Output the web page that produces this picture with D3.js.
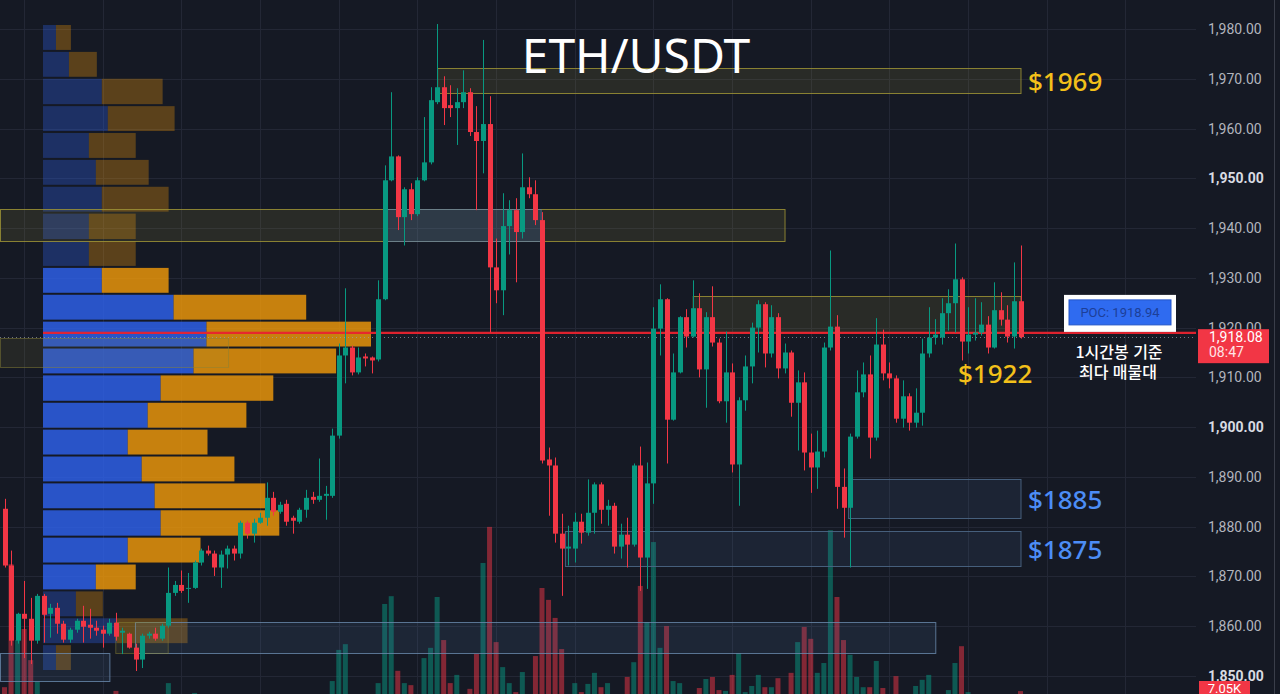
<!DOCTYPE html>
<html lang="ko">
<head>
<meta charset="utf-8">
<style>
html, body {
    margin: 0;
    padding: 0;
    background: #151924;
}
svg {
    display: block;
    width: 1280px;
    height: 694px;
    background-color: #151924;
}
</style>
</head>
<body>
<svg></svg>

<script src="https://cdn.jsdelivr.net/npm/d3@7/dist/d3.min.js"></script>
<script>
// ETH/USDT 1h candles + volume profile

var opens = [
 1883.6,1872.2,1857.1,1862.5,1861.5,1857.1,1866.1,1862.5,1863.7,1860.5,
 1857.3,1859.3,1861.1,1860.3,1859.7,1859.3,1858.5,1860.7,1858.7,1858.5,
 1855.7,1853.3,1858.1,1858.5,1857.5,1860.1,1866.7,1868.3,1867.5,1867.7,
 1872.8,1875.2,1874.6,1871.8,1874.4,1875.6,1874.6,1880.8,1878.6,1880.8,
 1881.8,1885.8,1883.0,1884.6,1881.8,1881.0,1883.4,1886.0,1885.4,1886.2,
 1886.2,1898.3,1914.4,1916.0,1911.0,1914.2,1914.0,1913.6,1925.7,1949.6,
 1954.4,1942.2,1947.8,1942.8,1949.6,1953.2,1965.3,1968.3,1964.7,1964.1,
 1965.3,1967.3,1959.3,1957.5,1960.9,1932.1,1927.5,1940.4,1943.6,1939.2,
 1948.2,1946.8,1941.6,1893.5,1892.3,1878.6,1875.6,1875.6,1881.0,1878.8,
 1882.8,1888.5,1883.4,1884.2,1876.0,1878.4,1876.4,1892.3,1873.8,1888.7,
 1919.8,1925.7,1901.5,1911.0,1922.1,1918.2,1923.9,1911.6,1922.1,1917.0,
 1905.2,1911.0,1892.5,1905.4,1912.2,1920.0,1924.7,1914.8,1922.1,1911.8,
 1915.0,1904.9,1909.0,1894.9,1891.9,1895.1,1916.0,1920.2,1888.0,1883.8,
 1898.1,1907.0,1910.6,1897.9,1916.6,1910.8,1909.8,1901.7,1906.2,1900.9,
 1902.9,1914.8,1918.0,1918.0,1922.9,1924.9,1929.7,1917.2,1918.6,1919.0,
 1920.6,1916.0,1923.5,1921.6,1918.2,1925.3
];
var highs = [
 1885.6,1875.2,1862.7,1869.1,1865.7,1866.5,1866.5,1864.5,1864.7,1861.1,
 1859.7,1861.5,1864.1,1863.5,1861.1,1860.1,1861.5,1862.7,1859.7,1858.7,
 1856.5,1858.5,1858.9,1859.7,1860.5,1871.8,1869.1,1871.2,1870.7,1873.2,
 1875.6,1876.2,1875.2,1875.2,1876.2,1876.2,1881.2,1881.2,1881.6,1882.8,
 1888.9,1887.0,1885.0,1885.4,1882.2,1883.8,1887.4,1887.0,1893.7,1888.2,
 1899.7,1916.8,1927.9,1916.4,1916.0,1914.8,1914.2,1929.5,1952.6,1967.3,
 1954.6,1948.2,1949.0,1950.2,1962.3,1968.3,1981.0,1970.5,1968.7,1968.1,
 1971.7,1968.1,1964.5,1977.8,1966.5,1937.9,1947.0,1945.6,1946.0,1955.0,
 1950.2,1949.6,1943.2,1895.9,1893.9,1882.6,1880.2,1882.8,1882.6,1889.5,
 1888.9,1888.9,1885.4,1884.8,1880.6,1881.8,1892.7,1896.1,1892.9,1924.1,
 1928.7,1925.9,1914.8,1922.3,1923.7,1929.5,1926.9,1923.1,1928.3,1917.8,
 1919.2,1912.8,1906.0,1914.4,1921.0,1925.5,1925.1,1924.5,1922.9,1916.8,
 1915.4,1911.4,1911.0,1898.7,1899.3,1917.0,1935.5,1922.5,1891.7,1898.7,
 1911.4,1913.0,1914.4,1921.9,1919.6,1913.0,1910.4,1909.4,1906.8,1907.8,
 1917.8,1924.1,1921.7,1925.9,1927.7,1936.9,1930.1,1924.1,1925.9,1925.1,
 1922.3,1929.1,1927.1,1924.5,1933.1,1936.5
];
var lows = [
 1871.8,1856.1,1856.5,1853.6,1852.4,1856.5,1856.7,1857.7,1858.5,1856.7,
 1856.7,1858.7,1856.7,1857.5,1858.1,1855.7,1858.1,1857.1,1854.4,1855.5,
 1851.0,1851.6,1857.5,1857.1,1857.1,1859.7,1866.1,1866.7,1864.7,1867.5,
 1872.2,1874.2,1870.1,1867.7,1871.6,1873.2,1873.6,1877.6,1876.8,1880.6,
 1880.2,1882.2,1882.6,1880.2,1878.6,1880.6,1881.8,1884.6,1885.0,1881.4,
 1885.8,1897.7,1908.8,1910.4,1910.6,1912.2,1910.8,1913.2,1925.5,1949.4,
 1939.6,1936.5,1941.6,1942.4,1949.4,1952.8,1964.9,1960.7,1962.3,1956.7,
 1964.1,1958.5,1943.6,1951.0,1919.0,1924.9,1922.5,1934.7,1929.1,1937.9,
 1946.0,1940.6,1892.7,1882.2,1876.8,1866.1,1872.2,1872.8,1876.6,1878.2,
 1878.6,1880.6,1880.2,1874.6,1873.6,1871.8,1876.0,1867.1,1867.5,1884.6,
 1914.4,1892.7,1901.3,1910.8,1916.0,1918.0,1910.0,1903.9,1916.2,1904.8,
 1900.9,1890.9,1884.2,1903.3,1908.8,1915.0,1912.0,1914.0,1909.8,1910.8,
 1902.1,1895.3,1891.3,1886.8,1887.6,1893.9,1915.4,1883.6,1877.8,1871.8,
 1897.7,1906.0,1893.7,1897.3,1909.4,1907.8,1900.9,1899.9,1899.3,1899.9,
 1900.3,1914.0,1916.6,1916.6,1919.4,1919.0,1913.4,1914.8,1917.4,1918.4,
 1914.8,1915.8,1920.4,1917.0,1915.8,1917.8
];
var closes = [
 1872.2,1857.1,1862.5,1861.5,1857.1,1866.1,1862.3,1863.7,1860.5,1857.3,
 1859.3,1861.1,1859.9,1859.7,1859.1,1858.5,1860.7,1857.9,1859.1,1855.7,
 1853.3,1858.1,1858.5,1857.5,1860.1,1866.7,1868.3,1867.1,1867.7,1872.8,
 1875.2,1874.6,1871.8,1874.4,1875.6,1874.6,1880.8,1878.6,1880.8,1881.8,
 1885.8,1883.0,1884.4,1881.0,1881.2,1883.4,1885.8,1885.4,1886.2,1886.6,
 1898.3,1914.4,1916.0,1911.0,1914.0,1913.8,1913.4,1925.7,1949.6,1954.4,
 1942.2,1947.8,1942.8,1949.6,1953.2,1965.7,1968.3,1964.1,1964.1,1965.3,
 1967.3,1959.3,1957.5,1960.9,1932.1,1927.5,1940.4,1943.6,1939.2,1948.2,
 1946.8,1941.6,1893.3,1892.3,1878.6,1875.6,1876.0,1881.0,1878.8,1882.8,
 1888.5,1883.4,1884.2,1876.0,1878.4,1876.4,1892.3,1873.8,1888.7,1919.8,
 1925.7,1901.5,1911.0,1922.1,1918.2,1923.9,1911.6,1922.1,1917.0,1905.2,
 1911.0,1892.5,1905.4,1912.2,1920.0,1924.7,1914.8,1922.1,1911.8,1915.0,
 1904.9,1909.0,1894.9,1891.9,1895.1,1916.0,1920.2,1888.0,1883.8,1898.1,
 1907.0,1910.6,1897.9,1916.6,1910.8,1909.8,1901.7,1906.2,1900.9,1902.9,
 1914.8,1918.0,1918.6,1922.9,1924.9,1929.7,1917.2,1918.6,1919.0,1920.6,
 1916.0,1923.5,1921.6,1918.2,1925.3,1918.08
];
// volume in K ETH
var volumes = [
 8.0,38,19.5,22.2,14.6,9.3,5,5,4,5,
 4,3,5,4,3,4,4,7.1,3,5,
 6,5,3,4,5,9.0,5,4,3,6.6,
 4,3,5,4,4,3,6,4,4,3,
 5,4,3,4,3,4,5,3,4,5,
 9.5,17.1,18.5,5,4,3,4,9.0,28.3,30.2,
 12.0,9.0,8.5,5,15.1,17.6,30.0,19.5,9.0,11.0,
 5,7.6,16.1,38.3,47.1,19.0,12.9,9.0,6.8,11.7,
 5,15.6,32.2,29.3,24.9,17.3,5,9.0,6.8,8.8,
 11.5,8.0,9.0,5,5,10.5,14.1,32.7,23.9,43.4,
 17.6,22.9,9.5,9.0,5,5,7.8,10.0,10.5,7.3,
 7.1,11.0,16.3,6.8,8.3,11.0,8.0,8.0,10.2,5,
 11.5,19.0,22.7,19.8,11.5,13.9,46.3,30.0,19.5,15.9,
 10.5,8.0,8.0,14.4,7.8,5,10.7,5,5,8.3,
 9.8,11.0,5,5,7.3,13.9,18.0,6.8,5,5,
 5,5,4,5,5,7.05
];

// volume profile rows (price edges top -> bottom), up / down volume per row
var profileEdges = [1981.0,1975.6,1970.2,1964.7,1959.3,1953.9,1948.5,1943.1,1937.6,1932.2,
 1926.8,1921.4,1916.0,1910.6,1905.1,1899.7,1894.3,1888.9,1883.5,1878.0,1872.6,1867.2,
 1861.8,1856.4,1851.0];
var profileUp   = [13,26,59,65,46,53,59,46,46,59,131,164,151,118,105,85,99,112,118,85,53,33,74,13];
var profileDown = [15,28,61,67,47,53,67,47,47,67,133,165,143,113,99,80,93,111,119,73,40,27,71,15];
var valueArea = [1867.2, 1932.2];
var poc = 1918.94;
var lastPrice = 1918.08;

var priceTicks = [1850,1860,1870,1880,1890,1900,1910,1920,1930,1940,1950,1960,1970,1980];

// drawn zones: candle index range + price range
var zones = [
    {i0: 66,   i1: 155,  top: 1972.2, bottom: 1967.1, kind: "yellow"},
    {i0: -0.7, i1: 119,  top: 1943.8, bottom: 1937.3, kind: "yellow"},
    {i0: 57.8, i1: 81.8, top: 1943.8, bottom: 1937.3, kind: "blueFill"},
    {i0: 105,  i1: 155,  top: 1926.3, bottom: 1919.0, kind: "yellow"},
    {i0: -0.7, i1: 34.1, top: 1918.0, bottom: 1912.2, kind: "yellowDim"},
    {i0: 128.7,i1: 155,  top: 1889.5, bottom: 1881.6, kind: "blue"},
    {i0: 85.5, i1: 155,  top: 1879.2, bottom: 1872.2, kind: "blue"},
    {i0: 19.9, i1: 142,  top: 1860.9, bottom: 1854.6, kind: "blueLight"},
    {i0: 16.9, i1: 24.9, top: 1860.9, bottom: 1854.6, kind: "yellowDim"},
    {i0: -0.7, i1: 16,   top: 1854.6, bottom: 1849.0, kind: "blueLight"}
];

var priceLabels = [
    {text: "$1969", price: 1969, pos: "right", color: "#f3c01a"},
    {text: "$1922", price: 1910.3, pos: "left", color: "#f3c01a"},
    {text: "$1885", price: 1885, pos: "right", color: "#4c8df6"},
    {text: "$1875", price: 1875, pos: "right", color: "#4c8df6"}
];

var svg = d3.select("svg");
var W = 1280, H = 694;
var plotRight = 1196;

var x = d3.scaleLinear().domain([0, 155]).range([4.5, 1020.5]);
var y = d3.scaleLinear().domain([1850, 1980]).range([676, 29]);
var yVol = d3.scaleLinear().domain([0, 50]).range([720, 515]);
var wProfile = d3.scaleLinear().domain([0, 330]).range([0, 329]);

var UP = "#089981", DOWN = "#f23645";

/////////////////////////////////////////
// grid
/////////////////////////////////////////
var grid = svg.append("g");
grid.selectAll(".h").data(priceTicks).join("line")
    .attr("x1", 0).attr("x2", plotRight)
    .attr("y1", function(d){ return Math.round(y(d)) + 0.5 })
    .attr("y2", function(d){ return Math.round(y(d)) + 0.5 })
    .attr("stroke", "#232735");
grid.selectAll(".v").data(d3.range(3, 172, 12)).join("line")
    .attr("x1", function(d){ return Math.round(x(d)) + 0.5 })
    .attr("x2", function(d){ return Math.round(x(d)) + 0.5 })
    .attr("y1", 0).attr("y2", H)
    .attr("stroke", "#232735");

/////////////////////////////////////////
// volume bars
/////////////////////////////////////////
svg.append("g").selectAll("rect").data(volumes).join("rect")
    .attr("x", function(d, i){ return x(i) - 2.5 })
    .attr("width", 5)
    .attr("y", function(d){ return yVol(d) })
    .attr("height", function(d){ return yVol(0) - yVol(d) })
    .attr("fill", function(d, i){ return closes[i] >= opens[i] ? UP : DOWN })
    .attr("fill-opacity", 0.5);

/////////////////////////////////////////
// volume profile
/////////////////////////////////////////
var profX = 43;
var prof = svg.append("g");
profileUp.forEach(function(up, k){
    var top = profileEdges[k], bot = profileEdges[k + 1];
    var mid = (top + bot) / 2;
    var inVA = mid >= valueArea[0] && mid <= valueArea[1];
    var op = inVA ? 0.82 : 0.32;
    var y0 = y(top) + 1, h = y(bot) - y(top) - 2;
    prof.append("rect").attr("x", profX).attr("y", y0)
        .attr("width", wProfile(up)).attr("height", h)
        .attr("fill", "#2e62ed").attr("fill-opacity", op);
    prof.append("rect").attr("x", profX + wProfile(up)).attr("y", y0)
        .attr("width", wProfile(profileDown[k])).attr("height", h)
        .attr("fill", "#ef990a").attr("fill-opacity", op);
});

/////////////////////////////////////////
// zones
/////////////////////////////////////////
var zoneStyle = {
    yellow:    {fill: "rgb(160,150,60)", fo: 0.15, stroke: "#9c9235", so: 0.85},
    yellowDim: {fill: "rgb(160,150,60)", fo: 0.12, stroke: "#8a8235", so: 0.5},
    blueFill:  {fill: "rgb(70,120,200)", fo: 0.2,  stroke: "#5b7fb8", so: 0.6},
    blue:      {fill: "rgb(80,120,170)", fo: 0.12, stroke: "#4b6685", so: 0.9},
    blueLight: {fill: "rgb(80,120,170)", fo: 0.14, stroke: "#6a89ad", so: 0.8}
};
svg.append("g").selectAll("rect").data(zones).join("rect")
    .attr("x", function(d){ return Math.max(0, x(d.i0)) + 0.5 })
    .attr("y", function(d){ return Math.round(y(d.top)) + 0.5 })
    .attr("width", function(d){ return x(d.i1) - Math.max(0, x(d.i0)) })
    .attr("height", function(d){ return Math.round(y(d.bottom) - y(d.top)) })
    .attr("fill", function(d){ return zoneStyle[d.kind].fill })
    .attr("fill-opacity", function(d){ return zoneStyle[d.kind].fo })
    .attr("stroke", function(d){ return zoneStyle[d.kind].stroke })
    .attr("stroke-opacity", function(d){ return zoneStyle[d.kind].so });

/////////////////////////////////////////
// POC line + last price line
/////////////////////////////////////////
svg.append("line")
    .attr("x1", profX).attr("x2", plotRight)
    .attr("y1", y(poc)).attr("y2", y(poc))
    .attr("stroke", "#e8232f").attr("stroke-width", 2.2).attr("stroke-opacity", 0.95);
svg.append("line")
    .attr("x1", 0).attr("x2", plotRight)
    .attr("y1", Math.round(y(lastPrice)) + 0.5).attr("y2", Math.round(y(lastPrice)) + 0.5)
    .attr("stroke", "#9aa0ad").attr("stroke-opacity", 0.7)
    .attr("stroke-dasharray", "1,3");

/////////////////////////////////////////
// candles
/////////////////////////////////////////
var candle = svg.append("g").selectAll("g").data(opens).join("g");
candle.append("line")
    .attr("x1", function(d, i){ return Math.round(x(i)) + 0.5 })
    .attr("x2", function(d, i){ return Math.round(x(i)) + 0.5 })
    .attr("y1", function(d, i){ return y(highs[i]) })
    .attr("y2", function(d, i){ return y(lows[i]) })
    .attr("stroke", function(d, i){ return closes[i] >= opens[i] ? UP : DOWN });
candle.append("rect")
    .attr("x", function(d, i){ return Math.round(x(i)) - 2 })
    .attr("width", 5)
    .attr("y", function(d, i){ return y(Math.max(opens[i], closes[i])) })
    .attr("height", function(d, i){ return Math.max(1, Math.abs(y(opens[i]) - y(closes[i]))) })
    .attr("fill", function(d, i){ return closes[i] >= opens[i] ? UP : DOWN });

/////////////////////////////////////////
// price axis
/////////////////////////////////////////
var axis = svg.append("g")
    .attr("transform", "translate(1208,0)")
    .call(d3.axisRight(y).tickValues(priceTicks).tickSize(0).tickPadding(0)
        .tickFormat(d3.format(",.2f")));
axis.select(".domain").remove();
axis.selectAll("text")
    .attr("font-family", "Roboto, sans-serif")
    .attr("font-size", 14)
    .attr("fill", function(d){ return d % 50 === 0 ? "#d8dbe2" : "#b2b5be" })
    .attr("font-weight", function(d){ return d % 50 === 0 ? "bold" : "normal" });

svg.append("line")
    .attr("x1", 1274.5).attr("x2", 1274.5).attr("y1", 0).attr("y2", H)
    .attr("stroke", "#3a3e4a");

// last price badge
var ly = y(lastPrice);
svg.append("rect").attr("x", 1198).attr("y", ly - 8).attr("width", 71).attr("height", 34)
    .attr("fill", "#f23645");
svg.append("text").attr("x", 1209).attr("y", ly + 5).text(d3.format(",.2f")(lastPrice))
    .attr("font-family", "Roboto, sans-serif").attr("font-size", 14).attr("fill", "#ffffff");
svg.append("text").attr("x", 1209).attr("y", ly + 20).text("08:47")
    .attr("font-family", "Roboto, sans-serif").attr("font-size", 14).attr("fill", "#ffe3e5");

// last volume badge
var lv = volumes[volumes.length - 1];
svg.append("rect").attr("x", 1199).attr("y", 681).attr("width", 51).attr("height", 20)
    .attr("fill", "#f23645");
svg.append("text").attr("x", 1224.5).attr("y", 693).attr("text-anchor", "middle")
    .text(lv.toFixed(2) + "K")
    .attr("font-family", "Roboto, sans-serif").attr("font-size", 13).attr("fill", "#ffffff");

/////////////////////////////////////////
// annotations
/////////////////////////////////////////
svg.append("text").attr("x", 636).attr("y", 73).attr("text-anchor", "middle")
    .text("ETH/USDT")
    .attr("font-family", "'Noto Sans', sans-serif").attr("font-size", 48)
    .attr("fill", "#ffffff");

svg.selectAll(".plabel").data(priceLabels).join("text")
    .attr("x", function(d){ return d.pos === "right" ? 1028 : 958 })
    .attr("y", function(d){ return y(d.price) + 7 })
    .text(function(d){ return d.text })
    .attr("font-family", "'Noto Sans', sans-serif").attr("font-size", 26)
    .attr("font-weight", 500)
    .attr("fill", function(d){ return d.color });

// POC badge
var py = y(poc);
svg.append("rect").attr("x", 1064).attr("y", py - 38).attr("width", 112).attr("height", 37)
    .attr("fill", "#ffffff");
svg.append("rect").attr("x", 1069).attr("y", py - 33).attr("width", 102).attr("height", 25)
    .attr("fill", "#2f6bf0").attr("stroke", "#2456c8");
svg.append("text").attr("x", 1120).attr("y", py - 16).attr("text-anchor", "middle")
    .text("POC: " + poc)
    .attr("font-family", "Roboto, sans-serif").attr("font-size", 13)
    .attr("fill", "#1d3f98");

svg.append("text").attr("x", 1119).attr("y", 358).attr("text-anchor", "middle")
    .text("1시간봉 기준")
    .attr("font-family", "'Noto Sans CJK KR', sans-serif").attr("font-size", 16)
    .attr("font-weight", 500).attr("fill", "#ffffff");
svg.append("text").attr("x", 1118).attr("y", 378).attr("text-anchor", "middle")
    .text("최다 매물대")
    .attr("font-family", "'Noto Sans CJK KR', sans-serif").attr("font-size", 16)
    .attr("font-weight", 500).attr("fill", "#ffffff");
</script>
</body>
</html>
